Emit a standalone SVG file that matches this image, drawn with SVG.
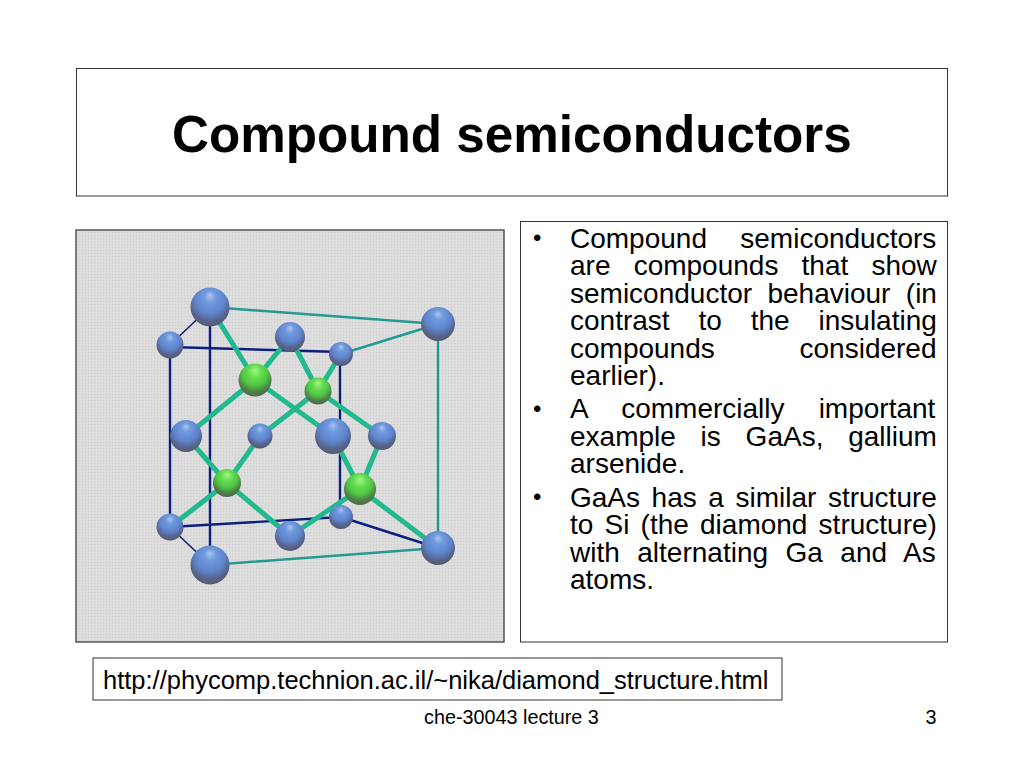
<svg xmlns="http://www.w3.org/2000/svg" width="1024" height="768" viewBox="0 0 1024 768">
<defs>
<style>
text{font-family:"Liberation Sans",Arial,sans-serif;fill:#000}
.box{fill:#fff;stroke:#333;stroke-width:1}
.b{font-size:28px}
.bu{font-size:24px}
.nv{stroke:#0c1f7e;stroke-width:2.4;fill:none}
.th{stroke:#14206e;stroke-width:1.6;fill:none}
.tl{stroke:#249a94;stroke-width:2.4;fill:none}
.gr{stroke:#23b98f;stroke-width:5;fill:none}
.blue{fill:url(#gb)}
.green{fill:url(#gg)}
</style>
<pattern id="dots" width="3" height="3" patternUnits="userSpaceOnUse">
<rect width="3" height="3" fill="#dedede"/>
<rect x="1" y="1" width="1.2" height="1.2" fill="#cdcdcd"/>
</pattern>
<radialGradient id="gb" cx="0.5" cy="0.36" r="0.68" fx="0.5" fy="0.2">
<stop offset="0" stop-color="#a9c8f0"/>
<stop offset="0.22" stop-color="#709ade"/>
<stop offset="0.56" stop-color="#5f84cc"/>
<stop offset="0.78" stop-color="#56648e"/>
<stop offset="1" stop-color="#55565f"/>
</radialGradient>
<radialGradient id="gg" cx="0.5" cy="0.36" r="0.68" fx="0.5" fy="0.2">
<stop offset="0" stop-color="#a6f58a"/>
<stop offset="0.3" stop-color="#63dc50"/>
<stop offset="0.56" stop-color="#50c544"/>
<stop offset="0.78" stop-color="#4c8246"/>
<stop offset="1" stop-color="#555e52"/>
</radialGradient>
</defs>
<rect width="1024" height="768" fill="#fff"/>
<g id="title"><rect class="box" x="76.500" y="68.500" width="871" height="127.500"/>
<text x="172" y="152" font-size="51.200" font-weight="700">Compound semiconductors</text></g>
<g id="image">
<rect x="76" y="230" width="428" height="412" fill="url(#dots)" stroke="#555" stroke-width="1.500"/>
</g>
<g id="connectors">
<path class="nv" d="M170 347L341 352M170 345V527M210 307V565M340 354V517M170 527L341 517M341 517L438 548"/>
<path class="th" d="M210 307L170 345M170 527L210 565"/>
<path class="tl" d="M210 307L438 324M341 354L438 324M438 324V548M210 565L438 548"/>
<path class="gr" d="M210 307L255 380M290 337L255 380M186 436L255 380M255 380L333 436M260 436L318 391M318 391L290 337M318 391L341 354M318 391L382 436M186 436L227 483M260 436L227 483M170 527L227 483M227 483L290 536M333 436L360 489M382 436L360 489M360 489L290 536M360 489L438 548"/>
</g>
<g id="n1"><circle class="blue" cx="210" cy="307" r="19.500"/></g>
<g id="n2"><circle class="blue" cx="170" cy="345" r="13.500"/></g>
<g id="n3"><circle class="blue" cx="290" cy="337" r="15"/></g>
<g id="n4"><circle class="blue" cx="341" cy="354" r="12"/></g>
<g id="n5"><circle class="blue" cx="438" cy="324" r="17"/></g>
<g id="n6"><circle class="green" cx="255" cy="380" r="16.500"/></g>
<g id="n7"><circle class="green" cx="318" cy="391" r="13.500"/></g>
<g id="n8"><circle class="blue" cx="186" cy="436" r="16"/></g>
<g id="n9"><circle class="blue" cx="260" cy="436" r="12.500"/></g>
<g id="n10"><circle class="blue" cx="333" cy="436" r="18"/></g>
<g id="n11"><circle class="blue" cx="382" cy="436" r="14"/></g>
<g id="n12"><circle class="green" cx="227" cy="483" r="14"/></g>
<g id="n13"><circle class="green" cx="360" cy="489" r="16"/></g>
<g id="n14"><circle class="blue" cx="170" cy="527" r="13.500"/></g>
<g id="n15"><circle class="blue" cx="290" cy="536" r="15"/></g>
<g id="n16"><circle class="blue" cx="341" cy="517" r="12"/></g>
<g id="n17"><circle class="blue" cx="438" cy="548" r="17"/></g>
<g id="n18"><circle class="blue" cx="210" cy="565" r="19.500"/></g>
<g id="body"><rect class="box" x="520.500" y="221.500" width="427" height="420.500"/>
<text class="bu" x="533" y="246">•</text>
<text class="bu" x="533" y="417">•</text>
<text class="bu" x="533" y="505">•</text>
<text class="b" x="570" y="248" word-spacing="25.500">Compound semiconductors</text>
<text class="b" x="570" y="275" word-spacing="15.400">are compounds that show</text>
<text class="b" x="570" y="303" word-spacing="7.600">semiconductor behaviour (in</text>
<text class="b" x="570" y="330" word-spacing="21.100">contrast to the insulating</text>
<text class="b" x="570" y="358" word-spacing="77">compounds considered</text>
<text class="b" x="570" y="385">earlier).</text>
<text class="b" x="570" y="418" word-spacing="26.300">A commercially important</text>
<text class="b" x="570" y="446" word-spacing="17">example is GaAs, gallium</text>
<text class="b" x="570" y="473">arsenide.</text>
<text class="b" x="570" y="507" word-spacing="3.800">GaAs has a similar structure</text>
<text class="b" x="570" y="534" word-spacing="3.400">to Si (the diamond structure)</text>
<text class="b" x="570" y="562" word-spacing="9.700">with alternating Ga and As</text>
<text class="b" x="570" y="589">atoms.</text></g>
<g id="link"><rect class="box" x="93" y="658" width="689" height="42"/>
<text x="103" y="689" font-size="25.500">http://phycomp.technion.ac.il/~nika/diamond_structure.html</text></g>
<g id="footer"><text x="424" y="724" font-size="19.800">che-30043 lecture 3</text>
<text x="925.500" y="724" font-size="19.800">3</text></g>
</svg>
